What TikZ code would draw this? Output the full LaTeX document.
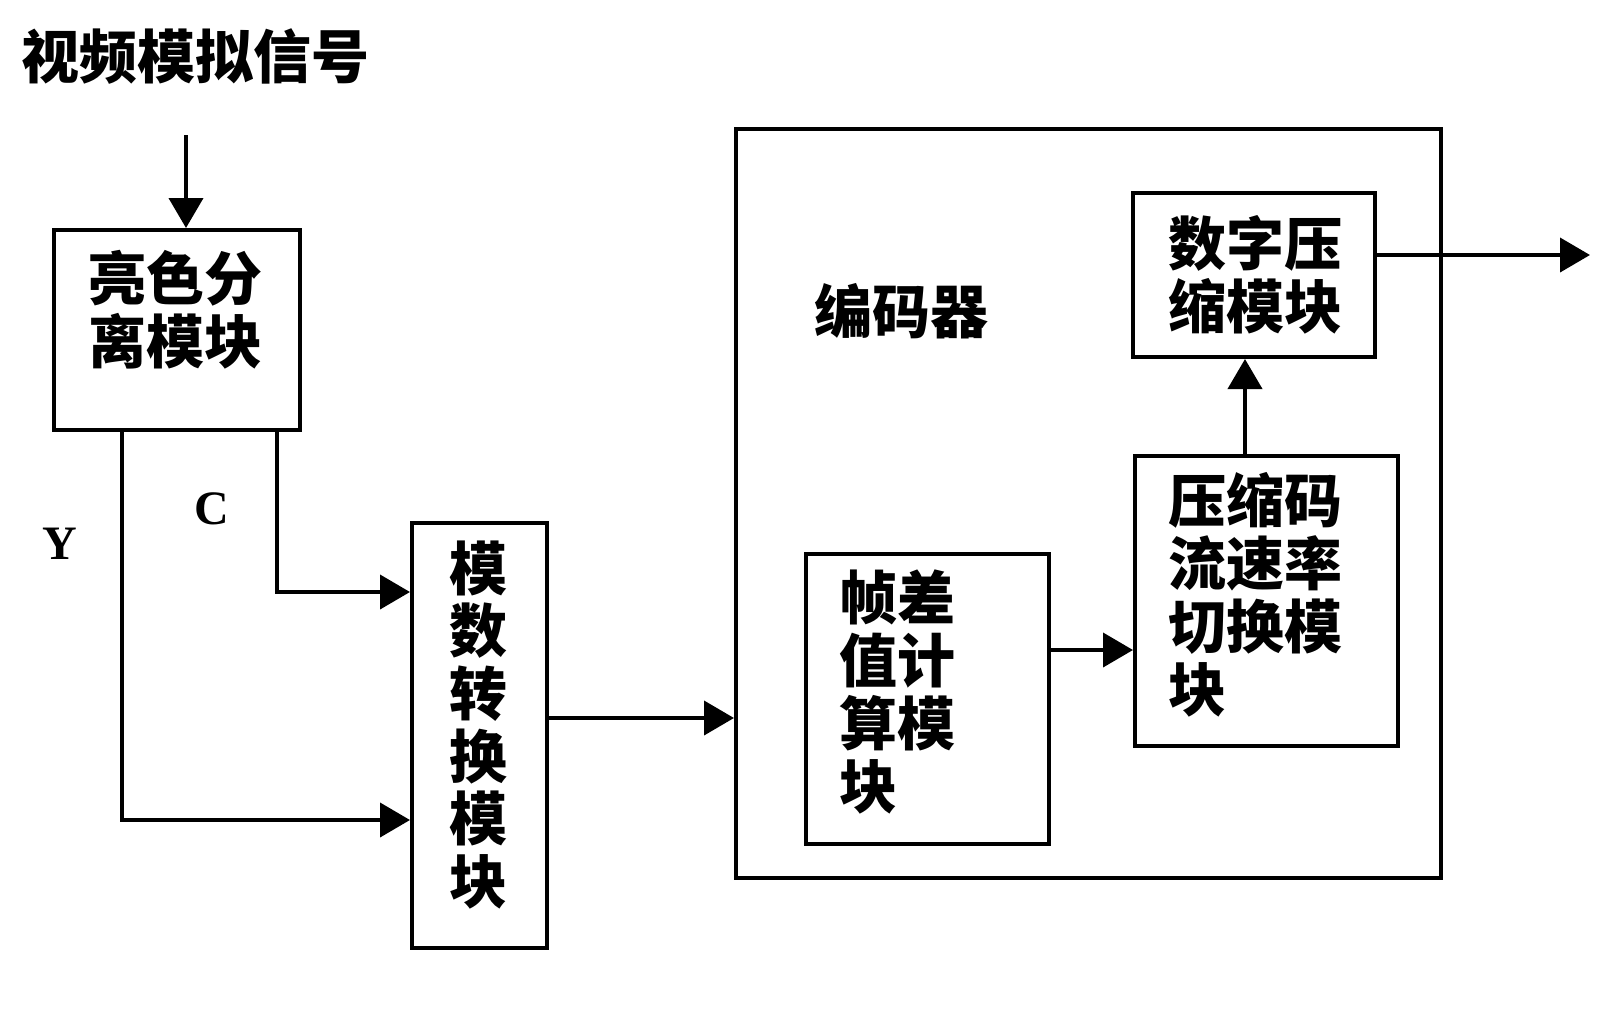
\documentclass[tikz,border=0pt]{standalone}
\usepackage{fontspec}
\setmainfont{Liberation Serif}
\newfontfamily\cjk{Noto Sans CJK SC}
\usetikzlibrary{arrows.meta}
\tikzstyle{line} = [draw, line width=2pt, -{Triangle[length=15pt,width=17pt]}]
\tikzstyle{box} = [rectangle, draw, line width=2pt, inner sep=0pt, align=left, font=\cjk\bfseries\fontsize{29}{31.5}\selectfont]
\tikzstyle{lbl} = [inner sep=0pt, font=\cjk\bfseries\fontsize{29}{31}\selectfont]
\tikzstyle{sig} = [inner sep=0pt, font=\bfseries\fontsize{24}{26}\selectfont]

\begin{document}
\begin{tikzpicture}[x=0.5pt, y=-0.5pt]
	\useasboundingbox (0,0) rectangle (1624,1024);
	
	\node [lbl, anchor=west] (title) at (21,57) {视频模拟信号};
	
	\node [box, minimum width=123pt, minimum height=100pt, text width=89pt, text depth=55pt] (sep) at (177,330) {亮色分\\离模块};
	\node [box, minimum width=67.5pt, minimum height=212.5pt, text width=30pt, text depth=170pt, font=\cjk\bfseries\fontsize{29}{31.3}\selectfont] (adc) at (479.5,735.5) {模\\数\\转\\换\\模\\块};
	
	\node [draw, line width=2pt, minimum width=352.5pt, minimum height=374.5pt] (enc) at (1088.5,503.5) {};
	\node [lbl] (enclbl) at (901,311) {编码器};
	
	\node [box, minimum width=121pt, minimum height=82pt, text width=86pt] (comp) at (1254,275) {数字压\\缩模块};
	\node [box, minimum width=131.5pt, minimum height=145pt, text width=98.5pt, text depth=104pt] (rate) at (1266.5,601) {压缩码\\流速率\\切换模\\块};
	\node [box, minimum width=121.5pt, minimum height=145pt, text width=88.5pt, text depth=104pt] (frame) at (927.5,699) {帧差\\值计\\算模\\块};
	
	\node [sig] (ylbl) at (60,544) {Y};
	\node [sig] (clbl) at (212,509) {C};
	
	\coordinate (src) at (186,135);
	\coordinate (cturn) at (277,592);
	\coordinate (yturn) at (122,820);
	\coordinate (adout) at (547,718);
	\coordinate (fdout) at (1049,650);
	\coordinate (rsup) at (1245,456);
	\coordinate (out) at (1590,255);
	
	\path [line] (src) -- (src |- sep.north);
	\path [line] (sep.south -| cturn) |- (adc.west |- cturn);
	\path [line] (sep.south -| yturn) |- (adc.west |- yturn);
	\path [line] (adc.east |- adout) -- (enc.west |- adout);
	\path [line] (frame.east |- fdout) -- (rate.west |- fdout);
	\path [line] (rate.north -| rsup) -- (comp.south -| rsup);
	\path [line] (comp.east |- out) -- (out);
\end{tikzpicture}
\end{document}
